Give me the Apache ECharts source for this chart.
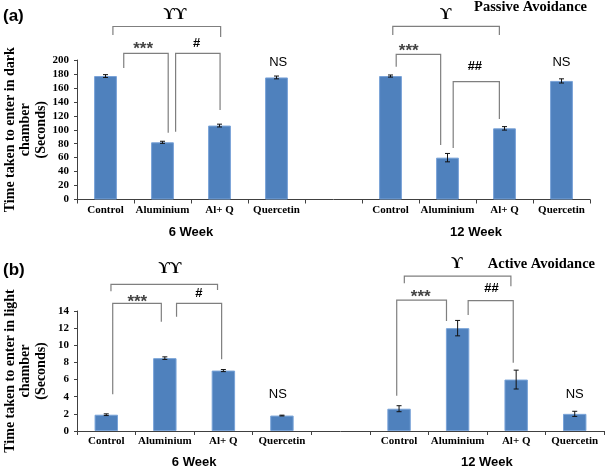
<!DOCTYPE html>
<html><head><meta charset="utf-8">
<script src="https://cdn.jsdelivr.net/npm/echarts@6/dist/echarts.min.js"></script>
<style>html,body{margin:0;padding:0;background:#fff}#c{width:605px;height:469px}</style>
</head><body><div id="c"></div><script>
const categories = ['Control','Aluminium','Al+ Q','Quercetin','','Control','Aluminium','Al+ Q','Quercetin'];
const groupLabels = ['6 Week','12 Week'];
const passiveValues = [177,82,106,175,null,177,60,102,170];
const passiveErrors = [2,1.5,2,2,null,1.5,6,2.5,3];
const activeValues = [1.9,8.5,7.05,1.8,null,2.6,12.0,6.0,2.0];
const activeErrors = [0.1,0.15,0.12,0.05,null,0.35,0.9,1.1,0.3];
const passiveAxis = {min:0,max:200,interval:20};
const activeAxis = {min:0,max:14,interval:2};

const SERIF='Liberation Serif', SANS='Liberation Sans';
const BAR='#4F81BD', BAR_EDGE='#79a3d8', BRK='#7f7f7f';
const chart = echarts.init(document.getElementById('c'));
const catKeys = categories.map((c,i)=>i+':'+c);

function xAxisFor(gi){
  return {type:'category',gridIndex:gi,data:catKeys,
    axisLine:{lineStyle:{color:'#404040',width:1}},
    axisTick:{show:true,length:4,lineStyle:{color:'#404040'}},
    axisLabel:{margin:5,formatter:v=>v.split(':').slice(1).join(':'),fontFamily:SERIF,fontWeight:'bold',fontSize:11,color:'#000',interval:0}};
}
function yAxisFor(gi,ax,name){
  return {type:'value',gridIndex:gi,min:ax.min,max:ax.max,interval:ax.interval,
    name:name,nameLocation:'middle',nameGap:28,nameMoveOverlap:false,
    nameTextStyle:{fontFamily:SERIF,fontWeight:'bold',fontSize:14,lineHeight:15.5,color:'#000'},
    axisLine:{show:true,lineStyle:{color:'#404040'}},
    axisTick:{show:true,length:3,lineStyle:{color:'#404040'}},
    splitLine:{show:false},
    axisLabel:{margin:8,fontFamily:SERIF,fontWeight:'bold',fontSize:11,color:'#000'}};
}
function errSeries(gi,vals,errs){
  return {type:'custom',xAxisIndex:gi,yAxisIndex:gi,z:5,
    data:vals.map((v,i)=>v==null?null:[i,v,errs[i]]).filter(d=>d),
    encode:{x:0,y:1},
    renderItem:function(params,api){
      const i=api.value(0),v=api.value(1),e=api.value(2);
      const t=api.coord([i,v+e]),b=api.coord([i,v-e]);const h=2.5;
      const st={stroke:'#111',lineWidth:1};
      return {type:'group',children:[
        {type:'line',shape:{x1:t[0],y1:t[1],x2:b[0],y2:b[1]},style:st},
        {type:'line',shape:{x1:t[0]-h,y1:t[1],x2:t[0]+h,y2:t[1]},style:st},
        {type:'line',shape:{x1:b[0]-h,y1:b[1],x2:b[0]+h,y2:b[1]},style:st}]};
    }};
}
chart.setOption({
  animation:false,
  grid:[{left:77,right:15,top:60,height:139.5,outerBoundsMode:'none',containLabel:false},
        {left:77,right:1,top:311,height:120,outerBoundsMode:'none',containLabel:false}],
  xAxis:[xAxisFor(0),xAxisFor(1)],
  yAxis:[yAxisFor(0,passiveAxis,'Time taken to enter in dark\nchamber\n(Seconds)'),
         yAxisFor(1,activeAxis,'Time taken to enter in light\nchamber\n(Seconds)')],
  series:[
    {type:'bar',xAxisIndex:0,yAxisIndex:0,barWidth:'40%',itemStyle:{color:BAR,borderColor:BAR_EDGE,borderWidth:1},data:passiveValues.map(v=>v==null?'-':v)},
    {type:'bar',xAxisIndex:1,yAxisIndex:1,barWidth:'40%',itemStyle:{color:BAR,borderColor:BAR_EDGE,borderWidth:1},data:activeValues.map(v=>v==null?'-':v)},
    errSeries(0,passiveValues,passiveErrors),
    errSeries(1,activeValues,activeErrors)
  ]
});

// annotation helpers: position = category index + fraction of category step, value on y scale
function P(gi,c,val){
  const f=Math.floor(c),fr=c-f;
  const p0=chart.convertToPixel({xAxisIndex:gi,yAxisIndex:gi},[f,val]);
  const a=chart.convertToPixel({xAxisIndex:gi},0),b=chart.convertToPixel({xAxisIndex:gi},1);
  return [p0[0]+fr*(b-a),p0[1]];
}
const G=[];
function bracket(gi,c1,c2,top,e1,e2){
  const A=P(gi,c1,e1),B=P(gi,c1,top),C=P(gi,c2,top),D=P(gi,c2,e2);
  G.push({type:'polyline',z:10,shape:{points:[A,B,C,D]},style:{stroke:BRK,lineWidth:1.2,fill:null}});
}
function label(gi,c,val,text,font,color,dy){
  const p=P(gi,c,val);
  G.push({type:'text',z:10,x:p[0],y:p[1]+(dy||0),style:{text:text,font:font,fill:color||'#000',align:'center',verticalAlign:'middle'}});
}
const STAR='bold 17px '+SANS;
// Passive
bracket(0,0.13,2.02,248,236,233);
bracket(0,0.32,1.1,209.6,188.5,95.8);
bracket(0,1.23,2.01,209.6,97.2,128.3);
bracket(0,5.04,6.91,248.3,236,236);
bracket(0,5.1,5.88,208.2,190.4,78.1);
bracket(0,6.1,6.91,168.9,73.8,115.4);
label(0,1.22,264.5,'ϒϒ','bold 16px '+SERIF);
label(0,0.66,222,'***',STAR,'#444',5);
label(0,1.6,224,'#','bold 13px '+SANS);
label(0,3.03,197,'NS','13px '+SANS);
label(0,5.97,264.5,'ϒ','bold 16px '+SERIF);
label(0,5.32,219.5,'***',STAR,'#444',5);
label(0,6.48,190.4,'##','bold 13px '+SANS);
label(0,8,196,'NS','13px '+SANS);
// Active
bracket(1,0.08,1.9,17.1,16.3,16.45);
bracket(1,0.11,0.94,14.9,4.28,12.75);
bracket(1,1.2,1.97,14.9,13.34,8.37);
bracket(1,5.09,6.91,18.08,17.23,16.9);
bracket(1,4.96,5.81,15.28,4.12,12.83);
bracket(1,6.18,6.95,15.2,13.53,7.97);
label(1,1.09,18.87,'ϒϒ','bold 16px '+SERIF);
label(1,0.53,15.6,'***',STAR,'#444',5);
label(1,1.58,16.07,'#','bold 13px '+SANS);
label(1,2.93,4.28,'NS','13px '+SANS);
label(1,5.99,19.45,'ϒ','bold 16px '+SERIF);
label(1,5.37,16.2,'***',STAR,'#444',5);
label(1,6.58,16.65,'##','bold 13px '+SANS);
label(1,8,4.28,'NS','13px '+SANS);
// group labels under axes
[[0,232],[1,462]].forEach(([gi,yy])=>{
  [[1,2],[6,7]].forEach(([a,b],k)=>{
    const pa=chart.convertToPixel({xAxisIndex:gi},a),pb=chart.convertToPixel({xAxisIndex:gi},b);
    G.push({type:'text',x:(pa+pb)/2,y:yy,style:{text:groupLabels[k],font:'bold 13px '+SANS,fill:'#000',align:'center',verticalAlign:'middle'}});
  });
});
G.push({type:'text',x:3,y:16,style:{text:'(a)',font:'bold 17px '+SANS,fill:'#000',verticalAlign:'middle'}});
G.push({type:'text',x:3,y:270,style:{text:'(b)',font:'bold 17px '+SANS,fill:'#000',verticalAlign:'middle'}});
G.push({type:'text',x:587,y:7,style:{text:'Passive Avoidance',font:'bold 14.5px '+SERIF,fill:'#000',align:'right',verticalAlign:'middle'}});
G.push({type:'text',x:595,y:264,style:{text:'Active Avoidance',font:'bold 14.5px '+SERIF,fill:'#000',align:'right',verticalAlign:'middle'}});
chart.setOption({graphic:G});
</script></body></html>
